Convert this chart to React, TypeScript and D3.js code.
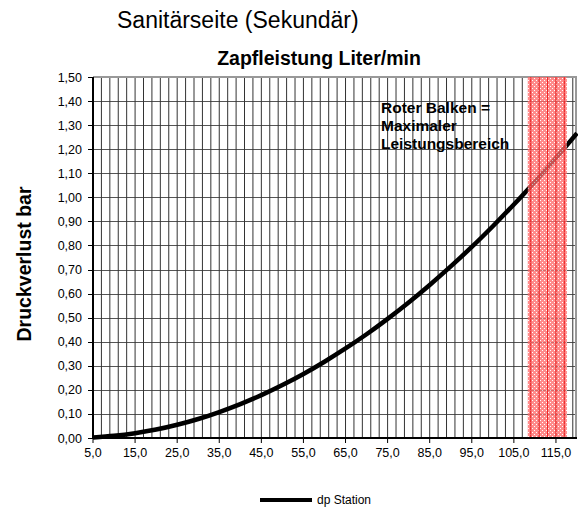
import React from "react";
import * as d3 from "d3";

const flowValues = [5, 10, 15, 20, 25, 30, 35, 40, 45, 50, 55, 60, 65, 70, 75, 80, 85, 90, 95, 100, 105, 110, 115, 120];
const dpValues = [0.002, 0.009, 0.02, 0.035, 0.055, 0.079, 0.108, 0.141, 0.178, 0.22, 0.266, 0.317, 0.372, 0.431, 0.495, 0.563, 0.636, 0.713, 0.794, 0.88, 0.97, 1.065, 1.164, 1.267];
const xTickLabels = [5, 15, 25, 35, 45, 55, 65, 75, 85, 95, 105, 115];
const yTickValues = [0, 0.1, 0.2, 0.3, 0.4, 0.5, 0.6, 0.7, 0.8, 0.9, 1.0, 1.1, 1.2, 1.3, 1.4, 1.5];
const xGridValues = d3.range(5, 120, 2);
const bandRange = [108.3, 117.6];

const title = "Sanitärseite (Sekundär)";
const xTitle = "Zapfleistung Liter/min";
const yTitle = "Druckverlust bar";
const noteLines = ["Roter Balken =", "Maximaler", "Leistungsbereich"];
const legendLabel = "dp Station";

export default function App() {
  const W = 578, H = 508;
  const left = 93, right = 577, top = 77, bottom = 438;
  const x = d3.scaleLinear().domain([5, 120]).range([left, right]);
  const y = d3.scaleLinear().domain([0, 1.5]).range([bottom, top]);
  const fmt = (v: number, d: number) => v.toFixed(d).replace(".", ",");
  const pts: [number, number][] = flowValues.map((q, i) => [q, dpValues[i]]);
  const line = d3.line<[number, number]>().x(d => x(d[0])).y(d => y(d[1])).curve(d3.curveMonotoneX);
  const font = "Arial, 'Liberation Sans', sans-serif";
  const bx0 = x(bandRange[0]), bx1 = x(bandRange[1]);

  return (
    <svg width={W} height={H} style={{ position: "absolute", left: 0, top: 0, background: "#fff" }} fontFamily={font}>
      <defs>
        <pattern id="hatch" width="4" height="4" patternUnits="userSpaceOnUse">
          <rect width="4" height="4" fill="#ff6a6a" />
          <rect x="0" y="0" width="1" height="1" fill="#ffffff" />
          <rect x="2" y="2" width="1" height="1" fill="#ffffff" />
        </pattern>
      </defs>
      <rect width={W} height={H} fill="#fff" />
      <text x={117} y={28} fontSize={23} fill="#000">{title}</text>
      <text x={319} y={65} fontSize={19.5} fontWeight="bold" textAnchor="middle">{xTitle}</text>
      <text transform={`translate(31,264) rotate(-90)`} fontSize={19.5} fontWeight="bold" textAnchor="middle">{yTitle}</text>

      {yTickValues.map(v => (
        <line key={"h" + v} x1={left} x2={right} y1={Math.round(y(v)) + 0.5} y2={Math.round(y(v)) + 0.5} stroke="#555" strokeWidth={1} />
      ))}
      {xGridValues.map(v => (
        <line key={"v" + v} x1={x(v)} x2={x(v)} y1={top} y2={bottom} stroke="#333" strokeWidth={1} />
      ))}
      <line x1={left} x2={right} y1={top} y2={top} stroke="#999" strokeWidth={2} />
      <line x1={right - 1} x2={right - 1} y1={top} y2={bottom} stroke="#999" strokeWidth={2} />

      <path d={line(pts) || ""} fill="none" stroke="#000" strokeWidth={4.5} />

      <rect x={bx0} y={top} width={bx1 - bx0} height={bottom - top} fill="url(#hatch)" opacity={0.78} />
      {xGridValues.filter(v => x(v) > bx0 && x(v) < bx1).map(v => (
        <line key={"rv" + v} x1={x(v)} x2={x(v)} y1={top} y2={bottom} stroke="#ff1010" strokeWidth={1} opacity={0.7} />
      ))}

      <line x1={left} x2={left} y1={top} y2={bottom + 1} stroke="#000" strokeWidth={2} />
      <line x1={left - 1} x2={right} y1={bottom} y2={bottom} stroke="#000" strokeWidth={2} />
      {yTickValues.map(v => (
        <g key={"yt" + v}>
          <line x1={left - 5} x2={left} y1={Math.round(y(v)) + 0.5} y2={Math.round(y(v)) + 0.5} stroke="#000" />
          <text x={82} y={y(v) + 4.5} fontSize={12.5} textAnchor="end">{fmt(v, 2)}</text>
        </g>
      ))}
      {xTickLabels.map(v => (
        <g key={"xt" + v}>
          <line x1={x(v)} x2={x(v)} y1={bottom} y2={bottom + 5} stroke="#000" />
          <text x={x(v)} y={457} fontSize={12.5} textAnchor="middle">{fmt(v, 1)}</text>
        </g>
      ))}

      {noteLines.map((t, i) => (
        <text key={t} x={381} y={113 + i * 18} fontSize={15.5} fontWeight="bold">{t}</text>
      ))}

      <line x1={260} x2={312} y1={500} y2={500} stroke="#000" strokeWidth={4} />
      <text x={317} y={504} fontSize={12}>{legendLabel}</text>
    </svg>
  );
}
